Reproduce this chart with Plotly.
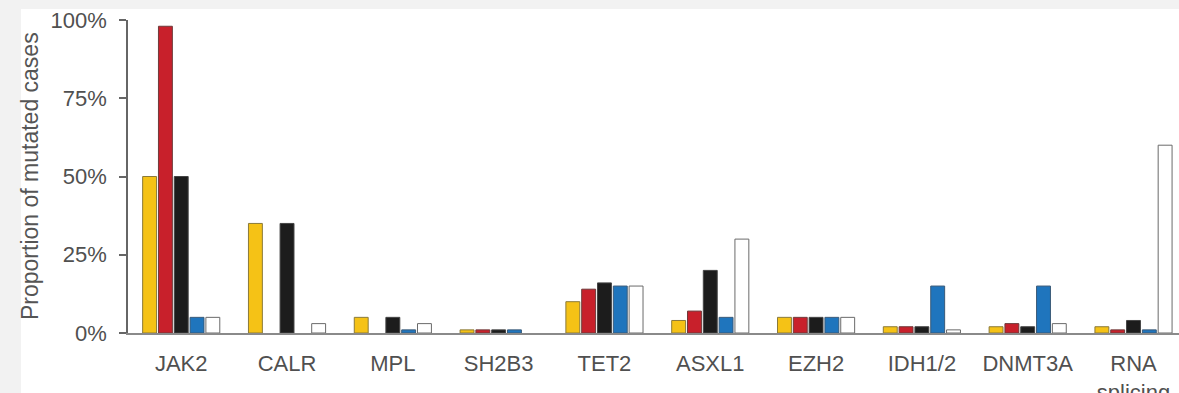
import plotly.graph_objects as go

# Genes on the x axis
genes = ["JAK2", "CALR", "MPL", "SH2B3", "TET2", "ASXL1", "EZH2",
         "IDH1/2", "DNMT3A", "RNA<br>splicing"]

# Proportion of mutated cases (%) per disease group
yellow_vals = [50, 35, 5, 1, 10, 4, 5, 2, 2, 2]
red_vals = [98, 0, 0, 1, 14, 7, 5, 2, 3, 1]
black_vals = [50, 35, 5, 1, 16, 20, 5, 2, 2, 4]
blue_vals = [5, 0, 1, 1, 15, 5, 5, 15, 15, 1]
white_vals = [5, 3, 3, 0, 15, 30, 5, 1, 3, 60]

y_ticks = [0, 25, 50, 75, 100]
y_ticktext = ["0%", "25%", "50%", "75%", "100%"]

series = [
    (yellow_vals, "#f5c216", "#8a7a3a"),
    (red_vals, "#c8202b", "#6e3a3a"),
    (black_vals, "#1c1c1c", "#444444"),
    (blue_vals, "#1f75bd", "#3a5a78"),
    (white_vals, "#ffffff", "#6a6a6a"),
]

xs = list(range(len(genes)))

fig = go.Figure()
for vals, fill, edge in series:
    # no outline for empty bars, so a zero value leaves no mark
    widths = [1 if v > 0 else 0 for v in vals]
    fig.add_trace(go.Bar(
        x=xs, y=vals,
        marker=dict(color=fill, line=dict(color=edge, width=widths)),
        showlegend=False,
    ))

FONT = "Liberation Sans, Arial, Helvetica, sans-serif"
L, T, B = 128, 20, 60
W, H = 1179, 393
PW, PH = W - L, H - T - B

fig.update_layout(
    width=W, height=H,
    margin=dict(l=L, r=0, t=T, b=B, pad=0, autoexpand=False),
    paper_bgcolor="#f2f2f2",
    plot_bgcolor="rgba(0,0,0,0)",
    barmode="group",
    bargap=0.253,
    bargroupgap=0.12,
    font=dict(family=FONT, size=22, color="#555555"),
    xaxis=dict(
        range=[-0.503, 9.43], automargin=False,
        tickmode="array", tickvals=xs, ticktext=genes,
        showline=True, linecolor="#8a8a8a", linewidth=1.5,
        ticks="", showgrid=False, zeroline=False,
        tickfont=dict(size=22, color="#505050"),
        ticklabelstandoff=10,
    ),
    yaxis=dict(
        range=[0, 100], automargin=False,
        tickmode="array", tickvals=y_ticks, ticktext=y_ticktext,
        showline=True, linecolor="#666666", linewidth=1.5,
        ticks="outside", ticklen=7, tickcolor="#666666", tickwidth=1.5,
        showgrid=False, zeroline=False,
        tickfont=dict(size=22, color="#505050"),
        ticklabelstandoff=8,
    ),
    shapes=[
        # white panel behind the chart
        dict(type="rect", xref="paper", yref="paper", layer="below",
             x0=(21 - L) / PW, x1=1.01,
             y0=-0.25, y1=(T + PH - 9) / PH,
             fillcolor="#ffffff", line=dict(width=0)),
    ],
    annotations=[
        dict(text="Proportion of mutated cases", xref="paper", yref="paper",
             x=(30 - L) / PW, y=(T + PH - 176) / PH,
             xanchor="center", yanchor="middle",
             textangle=-90, showarrow=False,
             font=dict(family=FONT, size=23, color="#555555")),
    ],
)

fig.write_html("out.html")
